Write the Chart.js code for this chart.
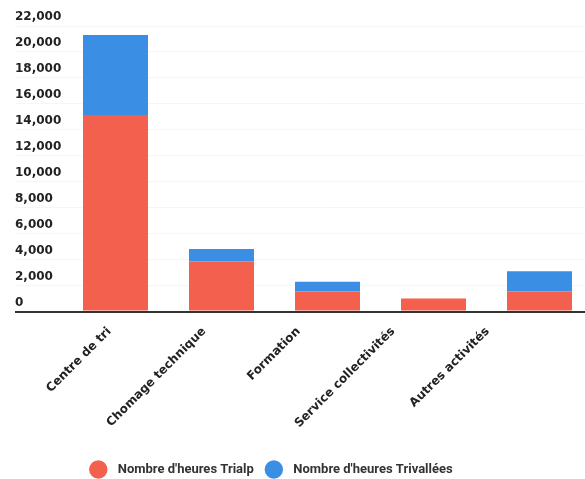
<!DOCTYPE html>
<html><head><meta charset="utf-8">
<script src="https://cdn.jsdelivr.net/npm/chart.js@4.4.1/dist/chart.umd.min.js"></script>
<style>
html,body{margin:0;padding:0;background:#fff;overflow:hidden;width:585px;height:479px}
#wrap{position:absolute;left:0;top:0;width:600px;height:486px}
</style>
</head><body><div id="wrap"><canvas id="c" width="600" height="486"></canvas></div>
<script>
// ---- data ----
const categories = ['Centre de tri', 'Chomage technique', 'Formation', 'Service collectivités', 'Autres activités'];
const seriesNames = ["Nombre d'heures Trialp", "Nombre d'heures Trivallées"];
const heuresTrialp = [15150, 3850, 1550, 1000, 1550];
const heuresTrivallees = [6150, 970, 750, 0, 1550];
const yTicks = [0, 2000, 4000, 6000, 8000, 10000, 12000, 14000, 16000, 18000, 20000, 22000];

// ---- styles / layout ----
const RED = '#F4604E';
const BLUE = '#3A8EE3';
const LEGEND_SHIFT = -31.5;
// in the reference the category labels are spaced a little tighter than the bars:
// they are drawn on a separate label axis whose range is slightly wider
const LABEL_AXIS_MIN = -0.497;
const LABEL_AXIS_MAX = 5.111;
const axisFont = {family: 'DejaVu Sans', weight: 'bold', size: 12};

const ctx = document.getElementById('c').getContext('2d');
new Chart(ctx, {
  type: 'bar',
  data: {
    labels: categories,
    datasets: [
      {label: seriesNames[0], data: heuresTrialp, backgroundColor: RED, borderWidth: 0, stack: 's'},
      {label: seriesNames[1], data: heuresTrivallees, backgroundColor: BLUE, borderWidth: 0, stack: 's'}
    ]
  },
  options: {
    responsive: false,
    animation: false,
    devicePixelRatio: 1,
    layout: {padding: {left: 15, right: 7.5, top: 26, bottom: 0}},
    datasets: {bar: {categoryPercentage: 1, barPercentage: 0.613}},
    scales: {
      x: {
        stacked: true,
        offset: true,
        display: false
      },
      xLabels: {
        type: 'linear',
        position: 'bottom',
        offset: false,
        min: LABEL_AXIS_MIN,
        max: LABEL_AXIS_MAX,
        grid: {display: false},
        border: {display: false},
        afterBuildTicks(s) { s.ticks = categories.map((_, i) => ({value: i})); },
        ticks: {
          minRotation: 45, maxRotation: 45, autoSkip: false, color: '#222', font: axisFont, padding: 5,
          callback: v => categories[v]
        },
        afterFit(s) { s.height = 138; }
      },
      y: {
        stacked: true,
        min: yTicks[0],
        max: yTicks[yTicks.length - 1],
        border: {display: false},
        grid: {
          drawTicks: true,
          tickLength: 47.5,
          color: c => (c.tick && c.tick.value === 0) ? '#333' : 'rgba(0,0,0,0.035)',
          lineWidth: c => (c.tick && c.tick.value === 0) ? 2 : 1
        },
        ticks: {
          stepSize: yTicks[1] - yTicks[0],
          crossAlign: 'far',
          labelOffset: -9,
          padding: 0,
          color: '#222',
          font: axisFont
        },
        afterFit(s) { s.width = 47.5; }
      }
    },
    plugins: {
      tooltip: {enabled: false},
      legend: {
        position: 'bottom',
        labels: {
          usePointStyle: true,
          pointStyle: 'circle',
          padding: 13.5,
          color: '#333',
          font: {family: 'Roboto', weight: 'bold', size: 13},
          generateLabels(chart) {
            const items = Chart.defaults.plugins.legend.labels.generateLabels(chart);
            items.forEach(i => { i.text = '  ' + i.text; });
            return items;
          }
        }
      }
    }
  },
  plugins: [{
    id: 'legendShift',
    afterLayout(chart) {
      chart.legend.left += LEGEND_SHIFT;
      chart.legend.right += LEGEND_SHIFT;
    }
  }]
});
</script>
</body></html>
